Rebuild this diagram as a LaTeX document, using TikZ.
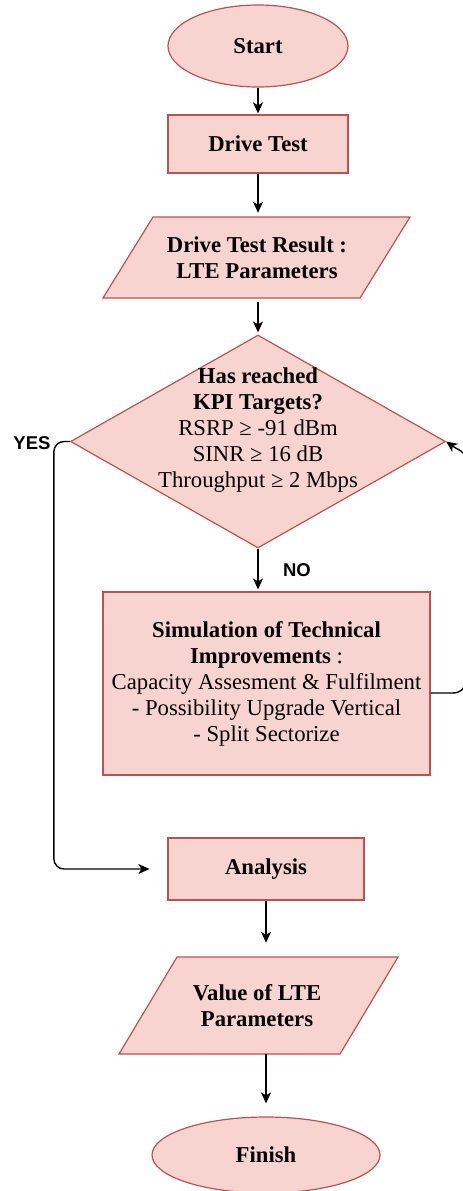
\documentclass[tikz,border=0pt]{standalone}
\usepackage{fontspec}
\setmainfont{Liberation Serif}
\newfontfamily\lsans{Liberation Sans}
\usetikzlibrary{shapes.geometric,arrows.meta}
\definecolor{boxfill}{HTML}{F8D4D0}
\definecolor{boxline}{HTML}{B85450}
\tikzset{
  shp/.style={draw=boxline, fill=boxfill, line width=1.2pt},
  txt/.style={font=\fontsize{22.7}{26}\selectfont, align=center, inner sep=0pt},
  conn/.style={line width=1.4pt, -{Stealth[length=11pt,width=10pt,inset=3pt]}},
  lbl/.style={font=\lsans\bfseries\fontsize{18.5}{22}\selectfont, inner sep=0pt},
}
\begin{document}
\begin{tikzpicture}[x=1pt,y=-1pt]
\useasboundingbox (0,0) rectangle (463,1191);
% shapes
\node[shp, ellipse, minimum width=180pt, minimum height=82pt, txt] (start) at (258,46) {\textbf{Start}};
\node[shp, rectangle, minimum width=180pt, minimum height=58pt, txt] (drive) at (258,144) {\textbf{Drive Test}};
\draw[shp] (103,298) -- (153,217) -- (410,217) -- (360,298) -- cycle;
\node[txt, minimum width=200pt, minimum height=81pt] (para1) at (257,257.5) {\textbf{Drive Test Result :}\\\textbf{LTE Parameters}};
\node[shp, diamond, minimum width=375pt, minimum height=213pt, inner sep=0pt] (dec) at (258,441.5) {};
\node[txt] (dectext) at (258,430) {\textbf{Has reached}\\\textbf{KPI Targets?}\\RSRP ≥ -91 dBm\\SINR ≥ 16 dB\\Throughput ≥ 2 Mbps};
\node[shp, rectangle, minimum width=327pt, minimum height=183pt, txt] (sim) at (266.5,683.5) {\textbf{Simulation of Technical}\\\textbf{Improvements} :\\Capacity Assesment \& Fulfilment\\- Possibility Upgrade Vertical\\- Split Sectorize};
\node[shp, rectangle, minimum width=196pt, minimum height=62pt, txt] (analysis) at (266,869) {\textbf{Analysis}};
\draw[shp] (119,1054) -- (177,957) -- (398,957) -- (340,1054) -- cycle;
\node[txt, minimum width=180pt, minimum height=97pt] (para2) at (257,1005.5) {\textbf{Value of LTE}\\\textbf{Parameters}};
\node[shp, ellipse, minimum width=228pt, minimum height=76pt, txt] (finish) at (266,1155) {\textbf{Finish}};
% labels
\node[lbl] (yes) at (32,443) {YES};
\node[lbl] (no) at (297,570) {NO};
% connectors
\draw[conn, shorten >=1pt] (start) -- (drive);
\draw[conn, shorten >=4pt] (drive.south) -- (drive.south |- para1.north);
\draw[conn, shorten <=4pt, shorten >=2pt] (para1.south -| dec.north) -- (dec.north);
\draw[conn, shorten >=2pt] (dec.south) -- (dec.south |- sim.north);
\draw[conn, rounded corners=10pt, shorten >=18pt] (dec.west) -- ++(-16,0) |- (analysis.west);
\draw[conn, shorten >=14pt] (analysis.south) -- (analysis.south |- para2.north);
\draw[conn, shorten >=13pt] (analysis.south |- para2.south) -- (analysis.south |- finish.north);
\begin{scope}
  \clip (0,0) rectangle (463,1191);
  \draw[conn] ([yshift=-9.5pt]sim.east) -- (452,693) .. controls (460,693) and (465,690) .. (465,680) -- (465,458) .. controls (465,451) and (458,450) .. (dec.east);
\end{scope}
\end{tikzpicture}
\end{document}
